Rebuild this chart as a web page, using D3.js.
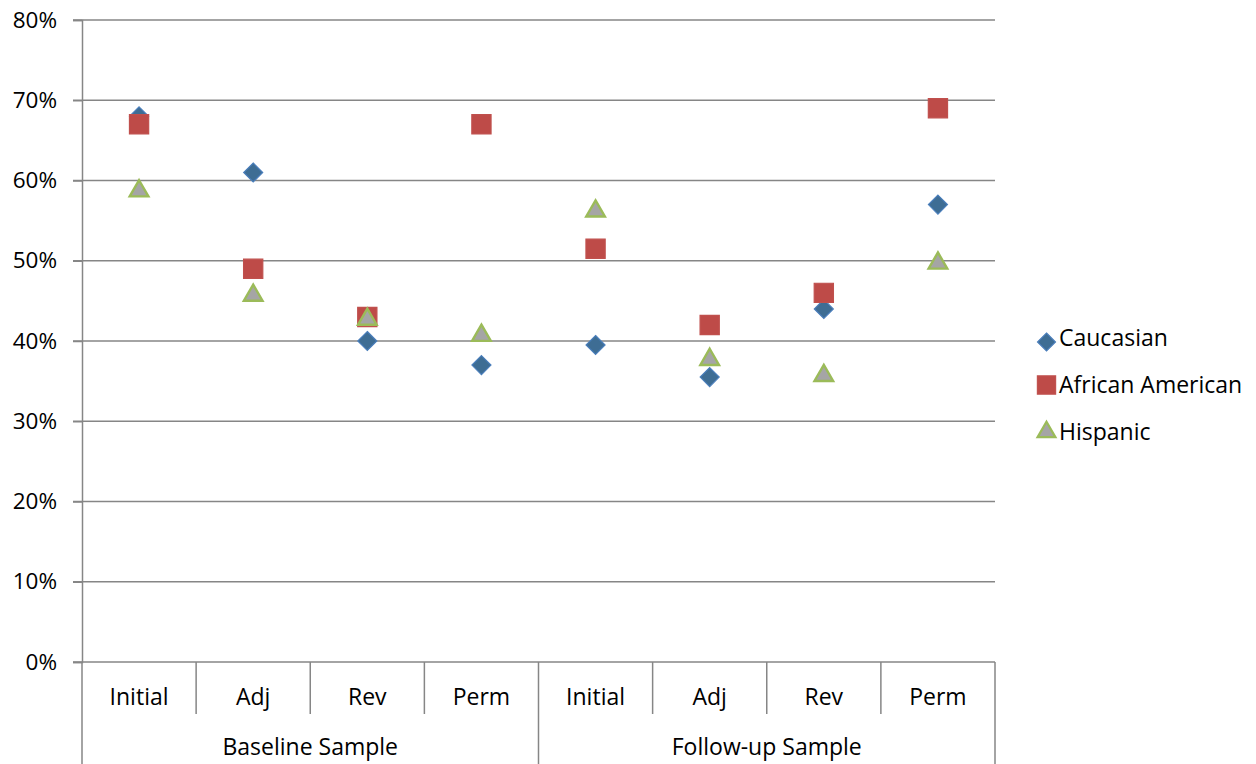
<!DOCTYPE html>
<html>
<head>
<meta charset="utf-8">
<script src="https://cdn.jsdelivr.net/npm/d3@7"></script>
<style>
  html, body { margin: 0; padding: 0; background: #fff; }
  svg { display: block; font-family: "Open Sans", "Liberation Sans", sans-serif; }
</style>
</head>
<body>
<svg id="chart" width="1256" height="764"></svg>
<script>
// Measures and sample groups on the category axis
const measures = ["Initial", "Adj", "Rev", "Perm", "Initial", "Adj", "Rev", "Perm"];
const groups = ["Baseline Sample", "Follow-up Sample"];
const yTicks = [0, 0.1, 0.2, 0.3, 0.4, 0.5, 0.6, 0.7, 0.8];

// Share of cases by ethnicity for each measure
const caucasian = [0.68, 0.61, 0.40, 0.37, 0.395, 0.355, 0.44, 0.57];
const africanAmerican = [0.67, 0.49, 0.43, 0.67, 0.515, 0.42, 0.46, 0.69];
const hispanic = [0.59, 0.46, 0.43, 0.41, 0.565, 0.38, 0.36, 0.50];

const seriesNames = ["Caucasian", "African American", "Hispanic"];

const svg = d3.select("#chart");
const plotLeft = 82, plotRight = 995, plotTop = 20, plotBottom = 662;
const fontFamily = '"Open Sans", "Liberation Sans", sans-serif';
const fontSize = 23;

const x = d3.scaleBand().domain(d3.range(measures.length)).range([plotLeft, plotRight]).paddingInner(0).paddingOuter(0);
const y = d3.scaleLinear().domain([0, 0.8]).range([plotBottom, plotTop]);

const gridColor = "#868686";

// Horizontal gridlines
svg.append("g").selectAll("line").data(yTicks.filter(d => d > 0)).join("line")
  .attr("x1", plotLeft - 9).attr("x2", plotRight)
  .attr("y1", d => y(d)).attr("y2", d => y(d))
  .attr("stroke", gridColor).attr("stroke-width", 1.5);

// Y axis
const yAxis = d3.axisLeft(y).tickValues(yTicks).tickFormat(d3.format(".0%")).tickSize(9).tickPadding(16);
const gy = svg.append("g").attr("transform", `translate(${plotLeft},0)`).call(yAxis);
gy.select(".domain").attr("stroke", gridColor).attr("stroke-width", 1.5);
gy.selectAll(".tick line").attr("stroke", gridColor).attr("stroke-width", 1.5);
gy.selectAll(".tick text").attr("font-size", 22.5).attr("fill", "#000")
  .attr("font-family", fontFamily);

// Category axis baseline
svg.append("line").attr("x1", plotLeft - 9).attr("x2", plotRight).attr("y1", plotBottom).attr("y2", plotBottom)
  .attr("stroke", gridColor).attr("stroke-width", 1.5);

// Dividers between measures and groups
const boundaries = d3.range(measures.length + 1);
svg.append("g").selectAll("line").data(boundaries).join("line")
  .attr("x1", i => i < measures.length ? x(i) : plotRight)
  .attr("x2", i => i < measures.length ? x(i) : plotRight)
  .attr("y1", plotBottom)
  .attr("y2", i => (i % 4 === 0) ? 764 : 714)
  .attr("stroke", gridColor).attr("stroke-width", 1.5);

// Measure labels
svg.append("g").selectAll("text").data(measures).join("text")
  .attr("x", (d, i) => x(i) + x.bandwidth() / 2).attr("y", 705)
  .attr("text-anchor", "middle").attr("font-size", fontSize).attr("fill", "#000")
  .text(d => d);

// Group labels
svg.append("g").selectAll("text").data(groups).join("text")
  .attr("x", (d, i) => (x(i * 4) + (i === 0 ? x(4) : plotRight)) / 2).attr("y", 755)
  .attr("text-anchor", "middle").attr("font-size", fontSize).attr("fill", "#000")
  .text(d => d);

// Marker styles (triangles shifted so their bounding box is centred on the value)
const styles = [
  { values: caucasian, shape: d3.symbolDiamond2, size: 230, fill: "#3E6D94", stroke: "#4A7EBB", sw: 1.2, dy: 0 },
  { values: africanAmerican, shape: d3.symbolSquare2, size: 470, fill: "#BE4B48", stroke: "#C0504D", sw: 1.2, dy: 0 },
  { values: hispanic, shape: d3.symbolTriangle2, size: 250, fill: "#A5A5A5", stroke: "#9BBB59", sw: 2.4, dy: 2.5 }
];

styles.forEach(s => {
  svg.append("g").selectAll("path").data(s.values).join("path")
    .attr("transform", (d, i) => `translate(${x(i) + x.bandwidth() / 2},${y(d) + s.dy})`)
    .attr("d", d3.symbol().type(s.shape).size(s.size))
    .attr("fill", s.fill)
    .attr("stroke", s.stroke)
    .attr("stroke-width", s.sw);
});

// Legend
const legend = svg.append("g");
const markerY = [342, 385, 432];
const textY = [346, 393, 440];
seriesNames.forEach((name, i) => {
  const s = styles[i];
  legend.append("path")
    .attr("transform", `translate(1046.5,${markerY[i]}) scale(0.95)`)
    .attr("d", d3.symbol().type(s.shape).size(s.size))
    .attr("fill", s.fill).attr("stroke", s.stroke)
    .attr("stroke-width", s.sw);
  legend.append("text")
    .attr("x", 1059).attr("y", textY[i])
    .attr("font-size", fontSize).attr("fill", "#000")
    .text(name);
});
</script>
</body>
</html>
